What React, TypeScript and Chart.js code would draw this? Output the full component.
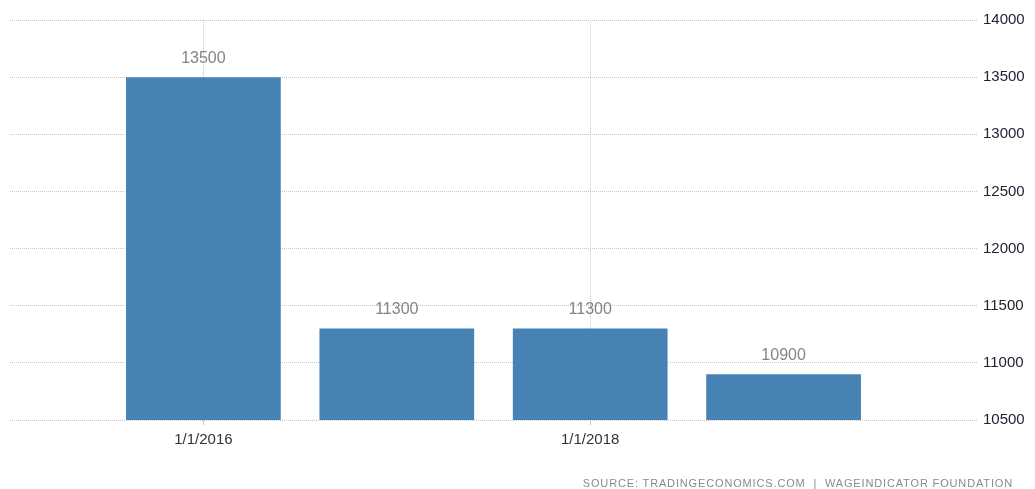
import React, { useEffect, useRef } from "react";
import { Chart, registerables } from "chart.js";

Chart.register(...registerables);

const categories = ["", "1/1/2016", "1/1/2017", "1/1/2018", "1/1/2019", ""];
const values: (number | null)[] = [null, 13500, 11300, 11300, 10900, null];
const shownTickLabels = ["1/1/2016", "1/1/2018"];
const yMin = 10500;
const yMax = 14000;
const yStep = 500;
const sourceText = "SOURCE: TRADINGECONOMICS.COM  |  WAGEINDICATOR FOUNDATION";

const FONT = "'Liberation Sans', Arial, sans-serif";

const valueLabelPlugin = {
  id: "valueLabels",
  afterDatasetsDraw(chart: any) {
    const ctx = chart.ctx;
    const meta = chart.getDatasetMeta(0);
    ctx.save();
    ctx.font = `16px ${FONT}`;
    ctx.fillStyle = "#848484";
    ctx.textAlign = "center";
    ctx.textBaseline = "middle";
    meta.data.forEach((el: any, i: number) => {
      const v = values[i];
      if (v == null) return;
      ctx.fillText(String(v), el.x, el.y - 19);
    });
    ctx.restore();
  },
};

export default function App() {
  const ref = useRef<HTMLCanvasElement>(null);
  useEffect(() => {
    if (!ref.current) return;
    const chart = new Chart(ref.current, {
      type: "bar",
      data: {
        labels: categories,
        datasets: [
          {
            data: values,
            backgroundColor: "#4682b4",
            borderWidth: 0,
            barPercentage: 0.8,
            categoryPercentage: 1.0,
          },
        ],
      },
      options: {
        responsive: false,
        animation: false,
        maintainAspectRatio: false,
        layout: { padding: { top: 20, left: 10, right: 0, bottom: 0 } },
        plugins: { legend: { display: false }, tooltip: { enabled: false } },
        scales: {
          x: {
            offset: false,
            grid: {
              offset: false,
              color: (c: any) =>
                shownTickLabels.includes(categories[c.index]) ? "#c8c8c8" : "rgba(0,0,0,0)",
              tickLength: 5,
              tickColor: (c: any) =>
                shownTickLabels.includes(categories[c.index]) ? "#c8c8c8" : "rgba(0,0,0,0)",
              tickBorderDash: [],
            } as any,
            border: { display: false, dash: [1, 1] },
            ticks: {
              autoSkip: false,
              maxRotation: 0,
              padding: 6,
              color: "#333333",
              font: { size: 15, family: FONT },
              callback: (_v: any, i: number) =>
                shownTickLabels.includes(categories[i]) ? categories[i] : "",
            },
            afterFit: (s: any) => {
              s.height = 69;
            },
          },
          y: {
            position: "right",
            min: yMin,
            max: yMax,
            grid: { color: "#c8c8c8", drawTicks: false },
            border: { display: false, dash: [1, 1] },
            ticks: {
              stepSize: yStep,
              padding: 6,
              color: "#222233",
              font: { size: 15, family: FONT },
              callback: (v: any) => String(v),
            },
            afterFit: (s: any) => {
              s.width = 58;
            },
          },
        },
      },
      plugins: [valueLabelPlugin],
    });
    return () => chart.destroy();
  }, []);
  return (
    <div style={{ position: "fixed", left: 0, top: 0, width: 1035, height: 489, background: "#fff" }}>
      <canvas ref={ref} width={1035} height={489} style={{ display: "block" }} />
      <div
        style={{
          position: "absolute",
          right: 22,
          top: 476,
          fontFamily: FONT,
          fontSize: 11,
          letterSpacing: "0.85px",
          color: "#8a8a8a",
          lineHeight: "14px",
          whiteSpace: "pre",
        }}
      >
        {sourceText}
      </div>
    </div>
  );
}
